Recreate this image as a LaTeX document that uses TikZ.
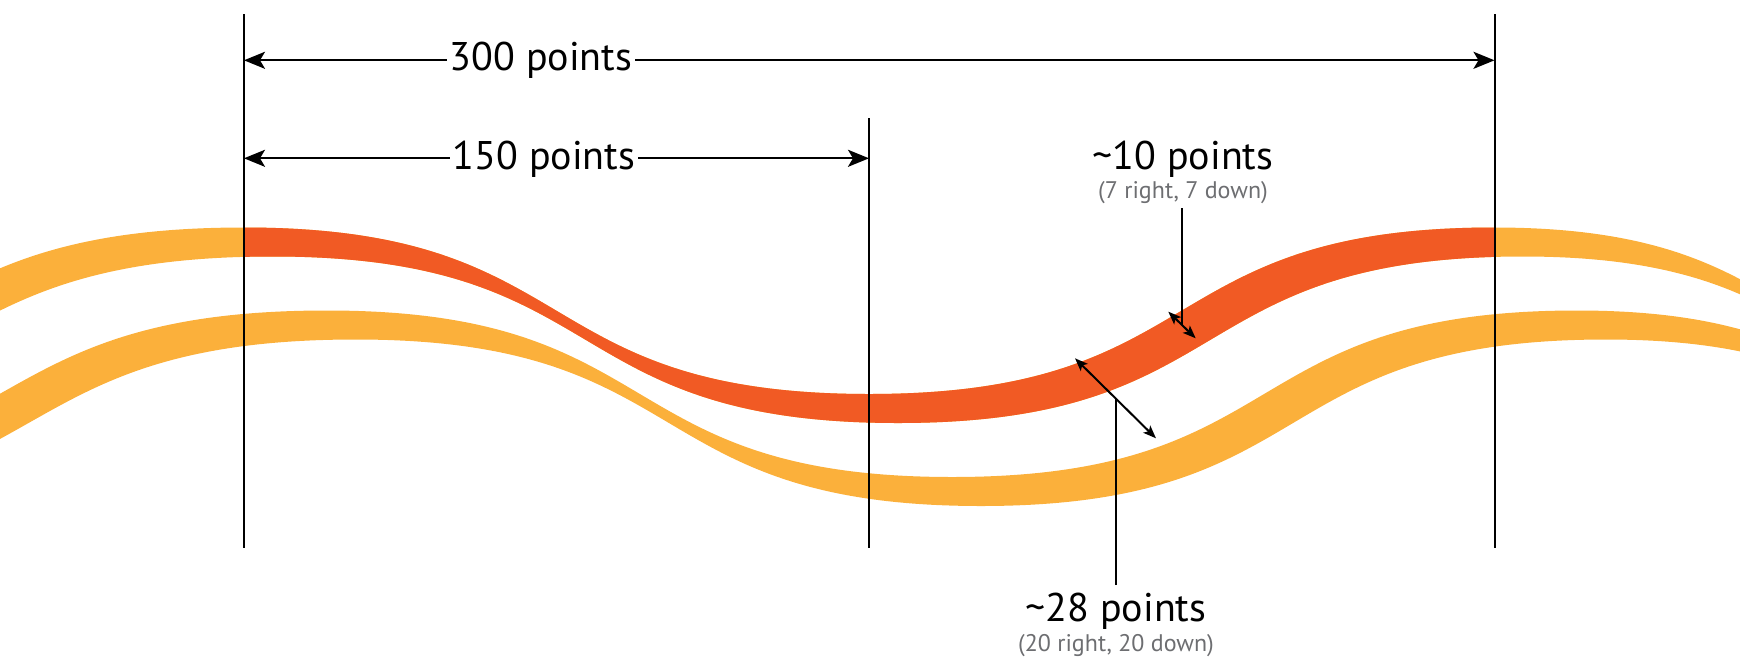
\documentclass[tikz,border=0pt]{standalone}
\usepackage{fontspec}
\setmainfont{PT Sans}
\usetikzlibrary{arrows.meta,calc}
\definecolor{bandorange}{HTML}{FBB03B}
\definecolor{bandred}{HTML}{F15A24}
\definecolor{subgray}{HTML}{6D6E71}
% edge curve C shifted by (#1,#1), left to right
\newcommand\wavefwd[1]{(-410+#1,394+#1) .. controls (-50.3+#1,394+#1) and (-115.7+#1,227.5+#1) .. (244+#1,227.5+#1) .. controls (587.75+#1,227.5+#1) and (525.25+#1,394+#1) .. (869+#1,394+#1) .. controls (1212.75+#1,394+#1) and (1150.25+#1,227.5+#1) .. (1494+#1,227.5+#1) .. controls (1824+#1,227.5+#1) and (1764+#1,394+#1) .. (2094+#1,394+#1)}
% same curve, right to left
\newcommand\waverev[1]{(2094+#1,394+#1) .. controls (1764+#1,394+#1) and (1824+#1,227.5+#1) .. (1494+#1,227.5+#1) .. controls (1150.25+#1,227.5+#1) and (1212.75+#1,394+#1) .. (869+#1,394+#1) .. controls (525.25+#1,394+#1) and (587.75+#1,227.5+#1) .. (244+#1,227.5+#1) .. controls (-115.7+#1,227.5+#1) and (-50.3+#1,394+#1) .. (-410+#1,394+#1)}
\begin{document}
\begin{tikzpicture}[x=1pt,y=-1pt,
  vline/.style={line width=2pt},
  dimarrow/.style={line width=2.3pt,-{Stealth[length=21pt,width=17pt,inset=5pt]}},
  smallarrow/.style={line width=2pt,{Stealth[length=13pt,width=10pt,inset=3pt]}-{Stealth[length=13pt,width=10pt,inset=3pt]}},
  leader/.style={line width=2pt},
  biglabel/.style={font=\fontsize{40}{42}\selectfont,inner xsep=3pt,inner ysep=0pt,anchor=base},
  sublabel/.style={font=\fontsize{24}{26}\selectfont,text=subgray,inner sep=0pt,anchor=base}]
\useasboundingbox (0,0) rectangle (1740,662);
\begin{scope}
\clip (0,0) rectangle (1740,662);
% upper band
\fill[bandorange] \wavefwd{0} -- \waverev{29} -- cycle;
\begin{scope}
\clip (244,0) rectangle (1494.5,662);
\fill[bandred] \wavefwd{0} -- \waverev{29} -- cycle;
\end{scope}
% lower band
\fill[bandorange] \wavefwd{83} -- \waverev{112} -- cycle;
\end{scope}
% vertical reference lines
\coordinate (v1t) at (244,14);   \coordinate (v1b) at (244,548);
\coordinate (v2t) at (869,118);  \coordinate (v2b) at (869,548);
\coordinate (v3t) at (1494.5,14); \coordinate (v3b) at (1494.5,548);
\draw[vline] (v1t) -- (v1b);
\draw[vline] (v2t) -- (v2b);
\draw[vline] (v3t) -- (v3b);
% 300 points
\node[biglabel] (lbl300) at (541,70.7) {300 points};
\coordinate (a300L) at (244,60.3);
\coordinate (a300R) at (1494.5,60.3);
\draw[dimarrow] (lbl300.west |- a300L) -- (a300L);
\draw[dimarrow] (lbl300.east |- a300R) -- (a300R);
% 150 points
\node[biglabel] (lbl150) at (544,169) {150 points};
\coordinate (a150L) at (244,158.3);
\coordinate (a150R) at (869,158.3);
\draw[dimarrow] (lbl150.west |- a150L) -- (a150L);
\draw[dimarrow] (lbl150.east |- a150R) -- (a150R);
% ~10 points
\node[biglabel] (lbl10) at (1183,169) {\textasciitilde10 points};
\node[sublabel] (sub10) at (1183,198) {(7 right, 7 down)};
\coordinate (t10a) at (1168.3,311.7);
\coordinate (t10b) at (1195.7,338.3);
\coordinate (m10) at ($(t10a)!0.5!(t10b)$);
\coordinate (l10) at (m10 |- 0,208);
\draw[smallarrow] (t10a) -- (t10b);
\draw[leader] (l10) -- (m10);
% ~28 points
\node[biglabel] (lbl28) at (1116,621) {\textasciitilde28 points};
\node[sublabel] (sub28) at (1116,651) {(20 right, 20 down)};
\coordinate (t28a) at (1075,358.3);
\coordinate (t28b) at (1156,438.3);
\coordinate (m28) at ($(t28a)!0.5!(t28b)$);
\coordinate (l28) at (m28 |- 0,585);
\draw[smallarrow] (t28a) -- (t28b);
\draw[leader] (l28) -- (m28);
\end{tikzpicture}
\end{document}
